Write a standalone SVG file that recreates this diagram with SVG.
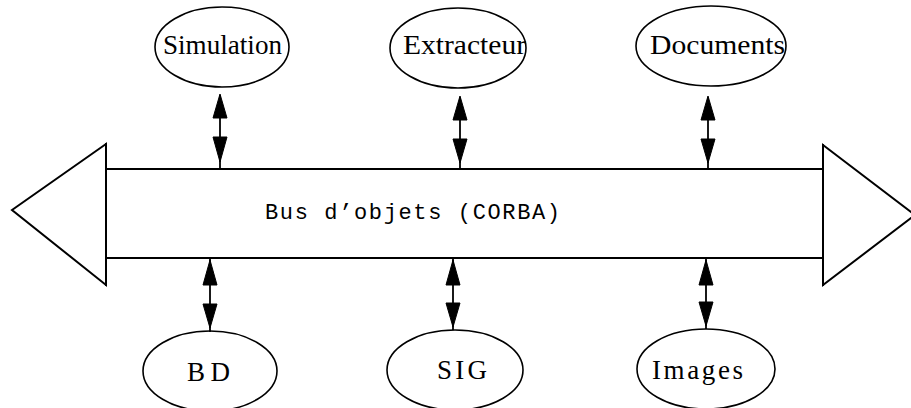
<svg xmlns="http://www.w3.org/2000/svg" width="911" height="408" viewBox="0 0 911 408">
<style>
.bg{fill:#fff}
.node ellipse{fill:#fff;stroke:#000;stroke-width:1.6}
.node text{font-family:"Liberation Serif","Times New Roman",serif;font-size:27px;fill:#000;text-anchor:start}
.bus line,.bus polygon{stroke:#000;stroke-width:2;fill:#fff}
.bus text{font-family:"Liberation Mono","Courier New",monospace;font-size:22px;fill:#000}
.conn line{stroke:#000;stroke-width:1.8}
.conn polygon{fill:#000;stroke:#000;stroke-width:1}
</style>
<rect class="bg" width="911" height="408"/>
<g id="bus" class="bus">
<polygon points="106,144 12,210 106,285"/>
<polygon points="823,145 915,215 823,285"/>
<line x1="106" y1="169" x2="823" y2="169"/>
<line x1="106" y1="258" x2="823" y2="258"/>
<line x1="106" y1="143" x2="106" y2="286" stroke-width="2.5"/>
<line x1="823" y1="144" x2="823" y2="286" stroke-width="2.5"/>
<text x="265" y="219" textLength="295" lengthAdjust="spacing">Bus d’objets (CORBA)</text>
</g>
<g id="simulation" class="node">
<ellipse cx="222" cy="47" rx="67" ry="40"/>
<text x="163" y="54" textLength="119" lengthAdjust="spacingAndGlyphs">Simulation</text>
</g>
<g id="extracteur" class="node">
<ellipse cx="458" cy="48" rx="68" ry="40"/>
<text x="403" y="54" textLength="123" lengthAdjust="spacingAndGlyphs">Extracteur</text>
</g>
<g id="documents" class="node">
<ellipse cx="711" cy="46" rx="75" ry="40"/>
<text x="650" y="54" textLength="135" lengthAdjust="spacingAndGlyphs">Documents</text>
</g>
<g id="bd" class="node">
<ellipse cx="210" cy="371" rx="67" ry="40"/>
<text x="187" y="381" textLength="43" lengthAdjust="spacing">BD</text>
</g>
<g id="sig" class="node">
<ellipse cx="455" cy="370" rx="68" ry="40"/>
<text x="437" y="379" textLength="50" lengthAdjust="spacing">SIG</text>
</g>
<g id="images" class="node">
<ellipse cx="706" cy="369" rx="69" ry="40"/>
<text x="652" y="379" textLength="91" lengthAdjust="spacing">Images</text>
</g>
<g id="connectors" class="conn">
<line x1="220" y1="95" x2="220" y2="169"/>
<polygon points="220,94 213,118 227,118"/>
<polygon points="220,162 213,137 227,137"/>
<line x1="460" y1="97" x2="460" y2="169"/>
<polygon points="460,96 453,120 467,120"/>
<polygon points="460,163 453,139 467,139"/>
<line x1="708" y1="97" x2="708" y2="169"/>
<polygon points="708,96 701,120 715,120"/>
<polygon points="708,163 701,139 715,139"/>
<line x1="210" y1="258" x2="210" y2="332"/>
<polygon points="210,260 203,285 217,285"/>
<polygon points="210,328 203,304 217,304"/>
<line x1="453" y1="258" x2="453" y2="330"/>
<polygon points="453,260 446,285 460,285"/>
<polygon points="453,327 446,303 460,303"/>
<line x1="706" y1="258" x2="706" y2="329"/>
<polygon points="706,260 699,285 713,285"/>
<polygon points="706,326 699,302 713,302"/>
</g>
</svg>
